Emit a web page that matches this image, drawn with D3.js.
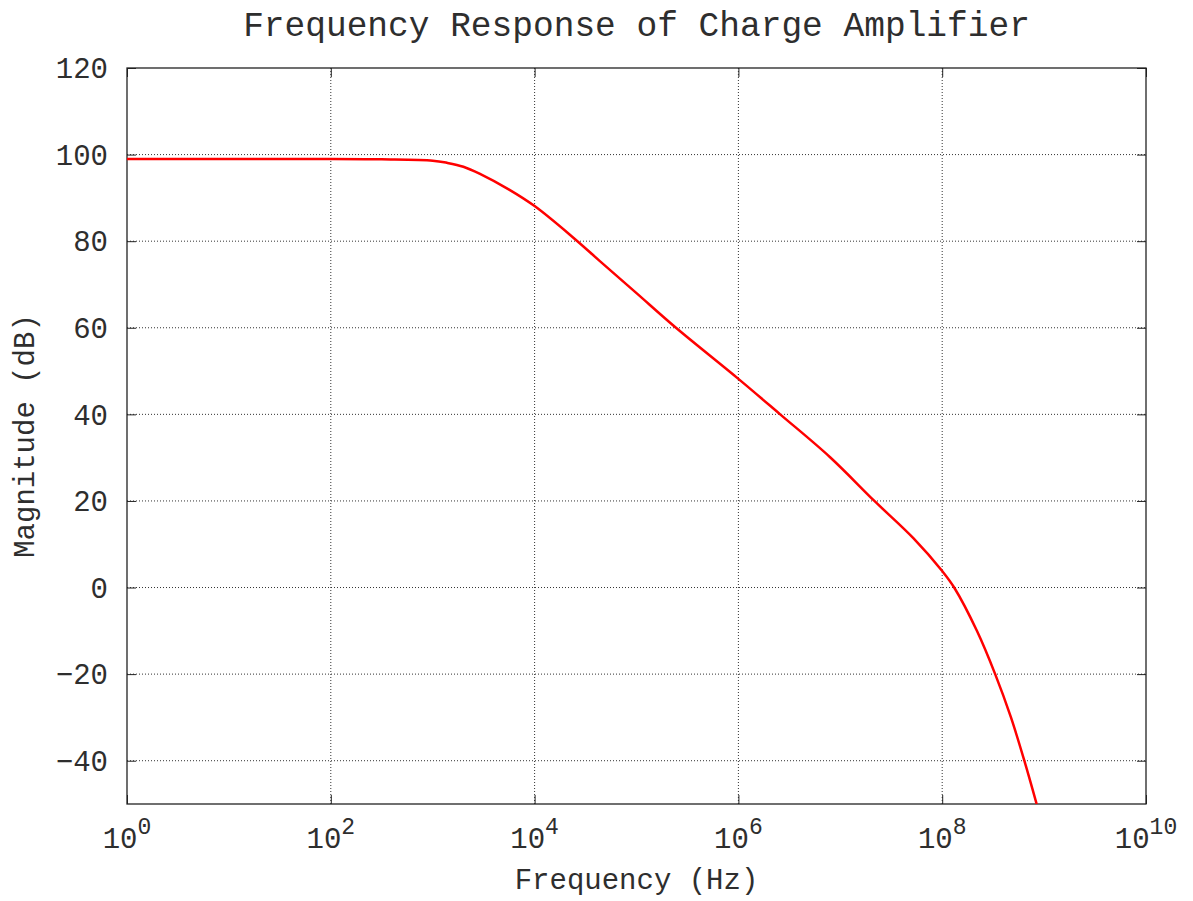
<!DOCTYPE html>
<html>
<head>
<meta charset="utf-8">
<script src="https://cdn.jsdelivr.net/npm/d3@7"></script>
<style>
  body { margin: 0; background: #fff; }
  text { font-family: "Liberation Mono", "DejaVu Sans Mono", monospace; fill: #2e2e2e; }
</style>
</head>
<body>
<script>
// values
var freqHz = [1, 10, 100, 316, 1000, 1380, 2000, 2880, 5620, 1e4, 2.4e4, 4.37e4, 1e5, 2.44e5, 1e6,
              2.57e6, 7.94e6, 2.16e7, 5.21e7, 1e8, 1.31e8, 2.19e8, 3.31e8, 4.73e8, 6.4e8, 8.45e8];
var magDb  = [99.0, 99.0, 99.0, 98.9, 98.6, 98.1, 97.2, 95.6, 91.9, 88.1, 80.8, 75.4, 68.0, 60.0, 48.2,
              40.0, 30.1, 20.0, 11.4, 3.8, 0.0, -10.0, -20.0, -30.0, -40.0, -50.0];
var xTicks = [1, 1e2, 1e4, 1e6, 1e8, 1e10];
var xTickExp = ["0", "2", "4", "6", "8", "10"];
var yTicks = [-40, -20, 0, 20, 40, 60, 80, 100, 120];

var W = 1193, H = 901;
var pL = 127, pR = 1146, pT = 68, pB = 804;

var svg = d3.select("body").append("svg")
  .attr("width", W)
  .attr("height", H);

var x = d3.scaleLog().domain([1, 1e10]).range([pL, pR]);
var y = d3.scaleLinear().domain([-50, 120]).range([pB, pT]);

// grid
var grid = svg.append("g");
grid.selectAll(".gx").data(xTicks.slice(1, -1)).enter().append("line")
  .attr("x1", function(d) { return x(d); }).attr("x2", function(d) { return x(d); })
  .attr("y1", pT).attr("y2", pB)
  .attr("stroke", "#333").attr("stroke-width", 1).attr("stroke-dasharray", "1,2");
grid.selectAll(".gy").data(yTicks.filter(function(d) { return d < 120; })).enter().append("line")
  .attr("x1", pL).attr("x2", pR)
  .attr("y1", function(d) { return y(d); }).attr("y2", function(d) { return y(d); })
  .attr("stroke", "#333").attr("stroke-width", 1).attr("stroke-dasharray", "1,2");

// axes with inward ticks
var tl = 9;
svg.append("g").attr("transform", "translate(0," + pB + ")")
  .call(d3.axisBottom(x).tickValues(xTicks).tickSize(-tl).tickFormat(""));
svg.append("g").attr("transform", "translate(0," + pT + ")")
  .call(d3.axisTop(x).tickValues(xTicks).tickSize(-tl).tickFormat(""));
svg.append("g").attr("transform", "translate(" + pL + ",0)")
  .call(d3.axisLeft(y).tickValues(yTicks).tickSize(-tl).tickFormat(""));
svg.append("g").attr("transform", "translate(" + pR + ",0)")
  .call(d3.axisRight(y).tickValues(yTicks).tickSize(-tl).tickFormat(""));
svg.selectAll(".domain").remove();
svg.selectAll(".tick line").attr("stroke", "#222");

svg.append("rect")
  .attr("x", pL).attr("y", pT)
  .attr("width", pR - pL).attr("height", pB - pT)
  .attr("fill", "none").attr("stroke", "#222").attr("stroke-width", 1.3);

// tick labels
svg.selectAll(".ylab").data(yTicks).enter().append("text")
  .attr("x", pL - 19)
  .attr("y", function(d) { return y(d); })
  .attr("dy", "0.35em")
  .attr("text-anchor", "end")
  .style("font-size", "29px")
  .text(function(d) { return d < 0 ? "\u2212" + Math.abs(d) : d; });

var xl = svg.selectAll(".xlab").data(xTicks).enter().append("text")
  .attr("x", function(d) { return x(d); })
  .attr("y", 848)
  .attr("text-anchor", "middle")
  .style("font-size", "29px");
xl.append("tspan").text("10");
xl.append("tspan")
  .attr("dy", -14)
  .style("font-size", "23px")
  .text(function(d, i) { return xTickExp[i]; });

// curve
var line = d3.line()
  .x(function(d, i) { return x(freqHz[i]); })
  .y(function(d) { return y(d); })
  .curve(d3.curveCatmullRom.alpha(0.5));

svg.append("defs").append("clipPath").attr("id", "clip")
  .append("rect").attr("x", pL).attr("y", pT)
  .attr("width", pR - pL).attr("height", pB - pT);

svg.append("path")
  .datum(magDb)
  .attr("d", line)
  .attr("clip-path", "url(#clip)")
  .attr("fill", "none")
  .attr("stroke", "#f00")
  .attr("stroke-width", 2.5);

// titles
svg.append("text")
  .attr("x", (pL + pR) / 2).attr("y", 36)
  .attr("text-anchor", "middle")
  .style("font-size", "34.5px")
  .text("Frequency Response of Charge Amplifier");

svg.append("text")
  .attr("x", (pL + pR) / 2).attr("y", 889)
  .attr("text-anchor", "middle")
  .style("font-size", "29px")
  .text("Frequency (Hz)");

svg.append("text")
  .attr("transform", "translate(34," + (pT + pB) / 2 + ") rotate(-90)")
  .attr("text-anchor", "middle")
  .style("font-size", "29px")
  .text("Magnitude (dB)");
</script>
</body>
</html>
